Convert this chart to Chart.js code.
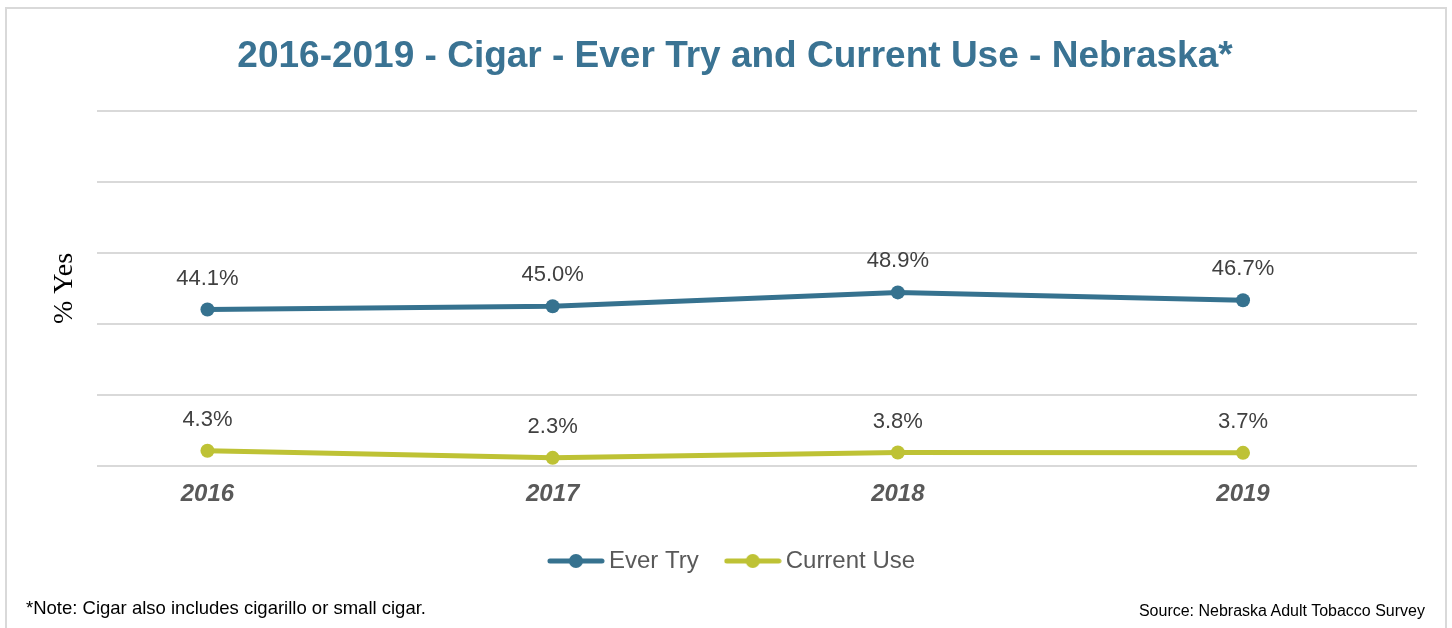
<!DOCTYPE html>
<html lang="en">
<head>
    <meta charset="UTF-8">
    <title>2016-2019 - Cigar - Ever Try and Current Use - Nebraska*</title>
    <script src="https://cdn.jsdelivr.net/npm/chart.js"></script>
    <style>
        body {
            margin: 0;
            background: #fff;
            font-family: "Liberation Sans", Arial, sans-serif;
        }

        #wrap {
            position: relative;
            width: 1452px;
            height: 628px;
            overflow: hidden;
        }

        #frame {
            position: absolute;
            left: 5px;
            top: 7px;
            width: 1438px;
            height: 640px;
            border: 2px solid #d9d9d9;
        }

        #chartBox {
            position: absolute;
            left: 0;
            top: 0;
            width: 1452px;
            height: 628px;
        }

        .note {
            position: absolute;
            color: #000;
            white-space: nowrap;
        }
    </style>
</head>

<body>
    <div id="wrap">
        <div id="frame"></div>
        <div id="chartBox"><canvas id="cigarChart"></canvas></div>
        <div class="note" style="left:26px; top:597px; font-size:18.5px;">*Note: Cigar also includes cigarillo or small cigar.</div>
        <div class="note" style="right:27px; top:602px; font-size:16px;">Source: Nebraska Adult Tobacco Survey</div>
    </div>

    <script>
        // data
        const years = [2016, 2017, 2018, 2019];
        const everTry = [44.1, 45.0, 48.9, 46.7];
        const currentUse = [4.3, 2.3, 3.8, 3.7];
        const seriesNames = ['Ever Try', 'Current Use'];
        const yTicks = [0, 20, 40, 60, 80, 100];

        const blue = '#36728f';
        const olive = '#bec235';

        // legend glyph: line with a dot in the middle
        function legendGlyph(color) {
            const c = document.createElement('canvas');
            c.width = 58;
            c.height = 16;
            const g = c.getContext('2d');
            g.strokeStyle = color;
            g.lineWidth = 5;
            g.lineCap = 'round';
            g.beginPath();
            g.moveTo(3, 8);
            g.lineTo(55, 8);
            g.stroke();
            g.fillStyle = color;
            g.beginPath();
            g.arc(29, 8, 7, 0, Math.PI * 2);
            g.fill();
            return c;
        }
        const glyphs = [legendGlyph(blue), legendGlyph(olive)];

        // value labels above the points
        const valueLabels = {
            id: 'valueLabels',
            afterDatasetsDraw(chart) {
                const ctx = chart.ctx;
                ctx.save();
                ctx.font = '22px "Liberation Sans", Arial, sans-serif';
                ctx.fillStyle = '#404040';
                ctx.textAlign = 'center';
                ctx.textBaseline = 'middle';
                chart.data.datasets.forEach((ds, i) => {
                    chart.getDatasetMeta(i).data.forEach((pt, j) => {
                        ctx.fillText(ds.data[j].y.toFixed(1) + '%', pt.x, pt.y - 31);
                    });
                });
                ctx.restore();
            }
        };

        const ctx = document.getElementById('cigarChart').getContext('2d');
        const cigarChart = new Chart(ctx, {
            type: 'line',
            data: {
                datasets: [{
                    label: seriesNames[0],
                    data: years.map((y, i) => ({ x: y, y: everTry[i] })),
                    borderColor: blue,
                    backgroundColor: blue,
                    borderWidth: 5,
                    pointRadius: 7,
                    pointHoverRadius: 7,
                    pointBorderWidth: 0,
                    tension: 0
                }, {
                    label: seriesNames[1],
                    data: years.map((y, i) => ({ x: y, y: currentUse[i] })),
                    borderColor: olive,
                    backgroundColor: olive,
                    borderWidth: 5,
                    pointRadius: 7,
                    pointHoverRadius: 7,
                    pointBorderWidth: 0,
                    tension: 0
                }]
            },
            options: {
                responsive: true,
                maintainAspectRatio: false,
                animation: false,
                layout: {
                    padding: { left: 53, right: 35, top: 0, bottom: 45 }
                },
                plugins: {
                    title: {
                        display: true,
                        text: '2016-2019 - Cigar - Ever Try and Current Use - Nebraska*',
                        color: '#3a7393',
                        font: { family: '"Liberation Sans", Arial, sans-serif', size: 37, weight: 'bold', lineHeight: 1.2 },
                        padding: { top: 35, bottom: 31.6 }
                    },
                    legend: {
                        position: 'bottom',
                        labels: {
                            usePointStyle: true,
                            pointStyleWidth: 42,
                            padding: 33,
                            color: '#595959',
                            font: { family: '"Liberation Sans", Arial, sans-serif', size: 24 },
                            generateLabels(chart) {
                                const items = Chart.defaults.plugins.legend.labels.generateLabels(chart);
                                items.forEach((it, i) => { it.pointStyle = glyphs[i]; });
                                return items;
                            }
                        }
                    },
                    tooltip: { enabled: false }
                },
                scales: {
                    x: {
                        type: 'linear',
                        min: 2015.68,
                        max: 2019.504,
                        grid: { display: false, drawTicks: false },
                        border: { display: false },
                        afterBuildTicks(scale) {
                            scale.ticks = years.map(v => ({ value: v }));
                        },
                        afterFit(scale) { scale.height = 50; },
                        ticks: {
                            padding: 14,
                            color: '#595959',
                            font: { family: '"Liberation Sans", Arial, sans-serif', size: 24, weight: 'bold', style: 'italic' },
                            callback: v => String(v)
                        }
                    },
                    y: {
                        min: 0,
                        max: 100,
                        afterBuildTicks(scale) {
                            scale.ticks = yTicks.map(v => ({ value: v }));
                        },
                        afterFit(scale) { scale.width = 44; },
                        grid: { color: '#d9d9d9', lineWidth: 2, drawTicks: false },
                        border: { display: false },
                        ticks: { display: false },
                        title: {
                            display: true,
                            text: '% Yes',
                            color: '#000',
                            font: { family: '"Liberation Serif", "Times New Roman", serif', size: 28, lineHeight: 0.8 },
                            padding: 0
                        }
                    }
                }
            },
            plugins: [valueLabels]
        });
    </script>
</body>

</html>
